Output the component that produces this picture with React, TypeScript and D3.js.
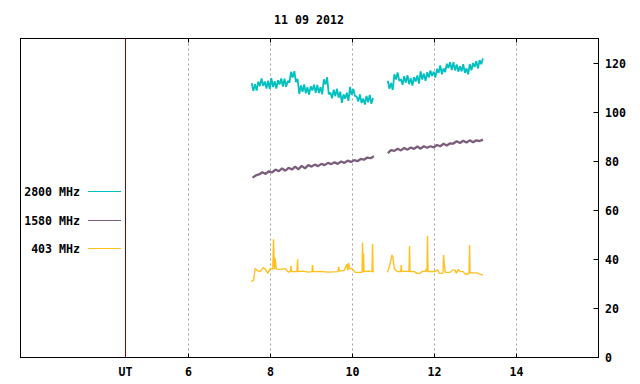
import * as d3 from "d3";

// --- data (UT hours, solar flux units) ---
const title = "11 09 2012";
const xTicks = [6, 8, 10, 12, 14];
const yTicks = [0, 20, 40, 60, 80, 100, 120];
const utHour = 4.46;

const step2800 = 0.04;
const start2800a = 7.54;
const flux2800a = [
  111.8, 108.7, 111.4, 108.8, 112.4, 110.6, 113.7, 110.7, 112.5, 109.6,
  112.8, 109.5, 113.8, 110.2, 112.6, 109.6, 113, 111.3, 113.7, 110.4,
  113.6, 110.3, 112.7, 112, 116.4, 114.1, 116.7, 112.2, 113.5, 107.4,
  110.9, 108.3, 111.3, 107.7, 110.1, 107.1, 110.5, 108.8, 111.2, 107.9,
  111.1, 107.8, 110.2, 107.3, 113.4, 111.3, 114.2, 107.2, 108, 105.6,
  109.1, 106.5, 109.5, 105.9, 108.3, 103.8, 107.2, 105.5, 107.9, 104.6,
  110.3, 107, 109.4, 106.5, 106.4, 104.3, 107.2, 103.7, 105.5, 103.1,
  106.6, 104, 107, 103.4, 105.8,
];
const start2800b = 10.86;
const flux2800b = [
  112.8, 109.5, 111.9, 109, 115.4, 113.3, 116.2, 112.7, 113.5, 111.1,
  114.6, 112, 115, 111.4, 113.8, 110.8, 114.2, 112.5, 114.9, 111.6,
  116.6, 113.3, 115.7, 112.8, 116.2, 114.1, 117, 114.7, 116.5, 114.1,
  117.6, 116, 119, 115.4, 117.8, 116.3, 119.7, 118, 120.4, 117.1,
  120.3, 117, 119.4, 116.5, 118.7, 116.6, 119.5, 116, 117.8, 115.4,
  119.6, 117, 120, 118.4, 120.8, 117.8, 121.2, 119.5, 121.9,
];

const step1580 = 0.08;
const start1580a = 7.56;
const flux1580a = [
  73.3, 74.2, 74.6, 75.5, 74.8, 75.9, 75.4, 76.6, 75.9, 77.1,
  76.1, 77.3, 76.6, 77.8, 76.7, 78.1, 77.1, 78.4, 77.8, 78.6,
  78, 78.9, 78.4, 79.3, 78.8, 79.6, 78.9, 79.9, 79.3, 80.2,
  79.7, 80.4, 80, 80.9, 80.6, 81.5, 81.2, 82,
];
const start1580b = 10.86;
const flux1580b = [
  83.3, 84.5, 84.2, 85.1, 84.4, 85.4, 84.7, 85.6, 85, 86,
  85.1, 86.1, 85.5, 86.1, 85.6, 86.6, 86.1, 87.1, 86.4, 87.3,
  87.2, 88.1, 87.4, 88.3, 87.6, 88.5, 87.7, 88.5, 88.2, 88.8,
];

// 403 MHz: [UT hour, flux] — flat with narrow spikes
const flux403a: [number, number][] = [
  [7.529, 30.9], [7.585, 31.5], [7.627, 36.3], [7.676, 35.4], [7.749, 35.0],
  [7.822, 36.7], [7.871, 36.0], [7.932, 34.3], [7.993, 36.3], [8.054, 36.0],
  [8.073, 48.2], [8.095, 36.0], [8.115, 40.4], [8.139, 36.0], [8.237, 35.9],
  [8.359, 36.2], [8.432, 34.8], [8.485, 35.0], [8.498, 37.3], [8.512, 35.0],
  [8.646, 35.0], [8.659, 40.0], [8.671, 35.0], [8.798, 35.2], [8.92, 34.8],
  [9.012, 35.0], [9.024, 37.7], [9.037, 35.0], [9.212, 35.1], [9.407, 34.8],
  [9.646, 35.0], [9.659, 37.0], [9.676, 35.2], [9.798, 35.5], [9.863, 38.0],
  [9.883, 35.5], [9.902, 38.6], [9.932, 36.0], [9.985, 36.3], [10.066, 34.7],
  [10.232, 34.7], [10.244, 46.9], [10.256, 35.0], [10.268, 42.4], [10.28, 35.0],
  [10.383, 35.2], [10.476, 35.0], [10.488, 46.2], [10.5, 35.0], [10.512, 34.7],
];
const flux403b: [number, number][] = [
  [10.854, 34.7], [10.92, 38.4], [10.961, 41.8], [10.985, 40.8], [11.017, 36.3],
  [11.09, 35.0], [11.176, 35.0], [11.188, 37.7], [11.2, 35.0], [11.285, 35.2],
  [11.378, 35.0], [11.39, 45.4], [11.402, 35.0], [11.505, 35.0], [11.578, 34.3],
  [11.651, 34.3], [11.7, 35.1], [11.773, 35.1], [11.798, 36.0], [11.817, 35.0],
  [11.829, 49.5], [11.841, 35.0], [11.944, 35.1], [12.017, 35.0], [12.073, 35.9],
  [12.115, 34.3], [12.18, 34.3], [12.207, 34.5], [12.22, 41.8], [12.237, 38.4],
  [12.261, 34.7], [12.383, 34.7], [12.432, 35.6], [12.505, 35.6], [12.529, 34.3],
  [12.585, 35.9], [12.627, 35.0], [12.7, 35.0], [12.749, 34.0], [12.841, 34.0],
  [12.854, 45.8], [12.866, 34.5], [13.034, 34.5], [13.115, 34.0], [13.18, 33.6],
];

const legend = [
  { label: "2800 MHz", color: "#00c0c0" },
  { label: "1580 MHz", color: "#7b5e7b" },
  { label: "403 MHz", color: "#ffc020" },
];

const font = "'DejaVu Sans Mono', monospace";

const sampled = (start: number, stepH: number, vals: number[]): [number, number][] =>
  vals.map((v, i) => [start + i * stepH, v]);

export default function App() {
  const W = 640;
  const H = 384;
  const x = d3.scaleLinear().domain([1.9, 16]).range([20.5, 598.5]);
  const y = d3.scaleLinear().domain([0, 130]).range([357.5, 38.5]);
  const line = d3
    .line<[number, number]>()
    .x((d) => x(d[0]))
    .y((d) => y(d[1]));

  const series = [
    { color: legend[0].color, width: 1.8, segs: [sampled(start2800a, step2800, flux2800a), sampled(start2800b, step2800, flux2800b)] },
    { color: legend[1].color, width: 2.3, segs: [sampled(start1580a, step1580, flux1580a), sampled(start1580b, step1580, flux1580b)] },
    { color: legend[2].color, width: 1.4, segs: [flux403a, flux403b] },
  ];

  const [x0, x1] = x.range();
  const [yb, yt] = y.range();
  const px = (v: number) => Math.round(x(v) - 0.5) + 0.5;
  const py = (v: number) => Math.round(y(v) - 0.5) + 0.5;

  return (
    <svg
      width={W}
      height={H}
      style={{ position: "absolute", left: 0, top: 0, background: "#fff" }}
      fontFamily={font}
      fontWeight="bold"
      fontSize={11.6}
    >
      <rect width={W} height={H} fill="#fff" />
      {/* grid */}
      {xTicks.map((t) => (
        <g key={t}>
          <line x1={px(t)} x2={px(t)} y1={yt} y2={yb} stroke="#a0a0a0" strokeDasharray="2,3" />
          <line x1={px(t)} x2={px(t)} y1={yb} y2={yb - 4} stroke="#000" />
          <line x1={px(t)} x2={px(t)} y1={yt} y2={yt + 4} stroke="#000" />
          <text x={px(t)} y={375.5} textAnchor="middle">{t}</text>
        </g>
      ))}
      {/* UT marker */}
      <line x1={px(utHour)} x2={px(utHour)} y1={yt} y2={yb} stroke="#8b0000" />
      <text x={px(utHour)} y={375.5} textAnchor="middle">UT</text>
      {/* right axis */}
      {yTicks.map((t) => (
        <g key={t}>
          {t > 0 && <line x1={x1} x2={x1 - 5} y1={py(t)} y2={py(t)} stroke="#000" />}
          <text x={605} y={py(t) + 4} textAnchor="start">{t}</text>
        </g>
      ))}
      {/* data */}
      {series.map((s, i) =>
        s.segs.map((seg, j) => (
          <path key={`${i}-${j}`} d={line(seg) ?? ""} fill="none" stroke={s.color} strokeWidth={s.width} strokeLinejoin="bevel" />
        ))
      )}
      {/* frame */}
      <rect x={x0} y={yt} width={x1 - x0} height={yb - yt} fill="none" stroke="#000" />
      {/* legend */}
      {legend.map((l, i) => {
        const ly = Math.round(191.5 + i * 28.5 - 0.5) + 0.5;
        return (
          <g key={l.label}>
            <text x={80} y={ly + 4} textAnchor="end">{l.label}</text>
            <line x1={88} x2={121} y1={ly} y2={ly} stroke={l.color} />
          </g>
        );
      })}
      <text x={309} y={23.5} textAnchor="middle">{title}</text>
    </svg>
  );
}
